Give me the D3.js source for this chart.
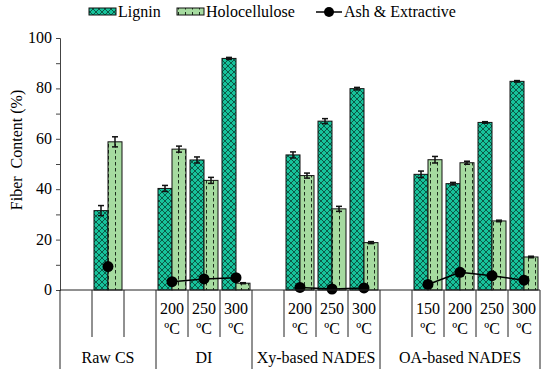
<!doctype html>
<html>
<head>
<meta charset="utf-8">
<script src="https://cdn.jsdelivr.net/npm/d3@7/dist/d3.min.js"></script>
<style>
  body { margin: 0; background: #fff; }
  text { font-family: "Liberation Serif", "Times New Roman", serif; }
</style>
</head>
<body>
<div id="chart"></div>
<script>

// one entry per slot on the x axis (empty slots keep the spacing)
var slotGroup = ["Raw CS","Raw CS","Raw CS","DI","DI","DI",
  "Xy-based NADES","Xy-based NADES","Xy-based NADES","Xy-based NADES",
  "OA-based NADES","OA-based NADES","OA-based NADES","OA-based NADES","OA-based NADES"];
var slotTemp = ["","","","200","250","300","","200","250","300","","150","200","250","300"];

var lignin    = [null,31.5,null, 40.3,51.6,91.9, null,53.6,67.0,79.9, null,45.9,42.2,66.5,82.8];
var ligninErr = [null, 2.0,null,  1.2, 1.2, 0.4, null, 1.2, 1.0, 0.5, null, 1.3, 0.5, 0.3, 0.3];
var holo      = [null,58.8,null, 55.9,43.5, 2.7, null,45.4,32.2,18.8, null,51.7,50.5,27.4,13.1];
var holoErr   = [null, 2.0,null,  1.2, 1.2, 0.2, null, 1.0, 1.0, 0.4, null, 1.3, 0.6, 0.3, 0.3];
var ash       = [null, 9.3,null,  3.3, 4.4, 4.9, null, 1.0, 0.4, 0.8, null, 2.2, 7.0, 5.7, 3.9];

var yTicks = [0,20,40,60,80,100];

var width = 550, height = 369;
var mLeft = 60, mRight = 540, mTop = 38, mBottom = 290;

var svg = d3.select("#chart").append("svg")
  .attr("width", width).attr("height", height);

var defs = svg.append("defs");

// lignin: teal with dark crosshatch
var pl = defs.append("pattern").attr("id","pLig")
  .attr("patternUnits","userSpaceOnUse").attr("width",6).attr("height",6);
pl.append("rect").attr("width",6).attr("height",6).attr("fill","#17c29b");
pl.append("path").attr("d","M0,0L6,6M6,0L0,6")
  .attr("stroke","#0c5a47").attr("stroke-width",1);

// holocellulose: light green with vertical dashes
var ph = defs.append("pattern").attr("id","pHolo")
  .attr("patternUnits","userSpaceOnUse").attr("width",7).attr("height",6);
ph.append("rect").attr("width",7).attr("height",6).attr("fill","#a6dba0");
ph.append("line").attr("x1",3.5).attr("x2",3.5).attr("y1",0).attr("y2",3.5)
  .attr("stroke","#1d2e1d").attr("stroke-width",1);

var x = d3.scaleBand().domain(d3.range(slotTemp.length)).range([mLeft, mRight]).padding(0);
var x1 = d3.scaleBand().domain(["Lignin","Holocellulose"]).range([0, x.bandwidth()])
  .paddingInner(0).paddingOuter(0.143);
var y = d3.scaleLinear().domain([0,100]).range([mBottom, mTop]);

// y axis
var yAxis = d3.axisLeft(y).tickValues(d3.range(0,101,10)).tickSize(4).tickFormat("");
var ya = svg.append("g").attr("transform","translate(" + mLeft + ",0)").call(yAxis);
ya.select(".domain").attr("stroke","#444");
ya.selectAll(".tick line").attr("stroke","#444");
svg.append("g").selectAll("text").data(yTicks).enter().append("text")
  .attr("x", mLeft - 8).attr("y", d => y(d) + 5)
  .attr("text-anchor","end").attr("font-size",16).text(d => d);

svg.append("text")
  .attr("transform","translate(22," + ((mTop + mBottom) / 2 - 14) + ") rotate(-90)")
  .attr("text-anchor","middle").attr("font-size",16)
  .style("white-space","pre").text("Fiber  Content (%)");

// bars
function drawBars(vals, errs, key, fill) {
  var idx = d3.range(vals.length).filter(i => vals[i] != null);
  var g = svg.append("g");
  g.selectAll("rect").data(idx).enter().append("rect")
    .attr("x", i => x(i) + x1(key))
    .attr("y", i => y(vals[i]))
    .attr("width", x1.bandwidth())
    .attr("height", i => y(0) - y(vals[i]))
    .attr("fill", fill).attr("stroke","#111").attr("stroke-width",1);
  var e = svg.append("g").attr("stroke","#111").attr("stroke-width",1.5);
  idx.forEach(function(i) {
    var cx = x(i) + x1(key) + x1.bandwidth() / 2;
    var y0 = y(vals[i] - errs[i]), y1 = y(vals[i] + errs[i]);
    e.append("line").attr("x1",cx).attr("x2",cx).attr("y1",y0).attr("y2",y1);
    e.append("line").attr("x1",cx-3).attr("x2",cx+3).attr("y1",y0).attr("y2",y0);
    e.append("line").attr("x1",cx-3).attr("x2",cx+3).attr("y1",y1).attr("y2",y1);
  });
}
drawBars(lignin, ligninErr, "Lignin", "url(#pLig)");
drawBars(holo, holoErr, "Holocellulose", "url(#pHolo)");

// ash line
var line = d3.line()
  .defined(d => d != null)
  .x((d, i) => x(i) + x.bandwidth() / 2)
  .y(d => y(d));
svg.append("path").datum(ash).attr("d", line)
  .attr("fill","none").attr("stroke","#000").attr("stroke-width",1.5);
svg.append("g").selectAll("circle")
  .data(d3.range(ash.length).filter(i => ash[i] != null))
  .enter().append("circle")
  .attr("cx", i => x(i) + x.bandwidth() / 2).attr("cy", i => y(ash[i]))
  .attr("r",5.5).attr("fill","#000");

// x axis baseline
svg.append("line").attr("x1",mLeft).attr("x2",mRight).attr("y1",mBottom).attr("y2",mBottom)
  .attr("stroke","#222").attr("stroke-width",1);

// slot dividers and group dividers
var ax = svg.append("g").attr("stroke","#222").attr("stroke-width",1);
for (var i = 0; i <= slotTemp.length; i++) {
  var xx = i < slotTemp.length ? x(i) : mRight;
  var isGroup = i == 0 || i == slotTemp.length || slotGroup[i] != slotGroup[i-1];
  ax.append("line").attr("x1",xx).attr("x2",xx).attr("y1",mBottom)
    .attr("y2", isGroup ? height : 337);
}

// temperature labels
var tl = svg.append("g").attr("font-size",16).attr("text-anchor","middle");
slotTemp.forEach(function(t, i) {
  if (!t) return;
  var cx = x(i) + x.bandwidth() / 2;
  tl.append("text").attr("x",cx).attr("y",314).text(t);
  tl.append("text").attr("x",cx).attr("y",334).text("\u00baC");
});

// group labels
var groups = [...new Set(slotGroup)];
groups.forEach(function(gname) {
  var ids = d3.range(slotGroup.length).filter(i => slotGroup[i] == gname);
  var cx = (x(ids[0]) + x(ids[ids.length-1]) + x.bandwidth()) / 2;
  tl.append("text").attr("x",cx).attr("y",363).text(gname);
});

// legend
var lg = svg.append("g").attr("font-size",16);
lg.append("rect").attr("x",89).attr("y",8).attr("width",27).attr("height",7)
  .attr("fill","url(#pLig)").attr("stroke","#111");
lg.append("text").attr("x",118).attr("y",17).text("Lignin");
lg.append("rect").attr("x",177).attr("y",8).attr("width",27).attr("height",7)
  .attr("fill","url(#pHolo)").attr("stroke","#111");
lg.append("text").attr("x",206).attr("y",17).text("Holocellulose");
lg.append("line").attr("x1",316).attr("x2",342).attr("y1",12).attr("y2",12)
  .attr("stroke","#000").attr("stroke-width",1.5);
lg.append("circle").attr("cx",329).attr("cy",12).attr("r",5).attr("fill","#000");
lg.append("text").attr("x",344).attr("y",17).text("Ash & Extractive");

</script>
</body>
</html>
